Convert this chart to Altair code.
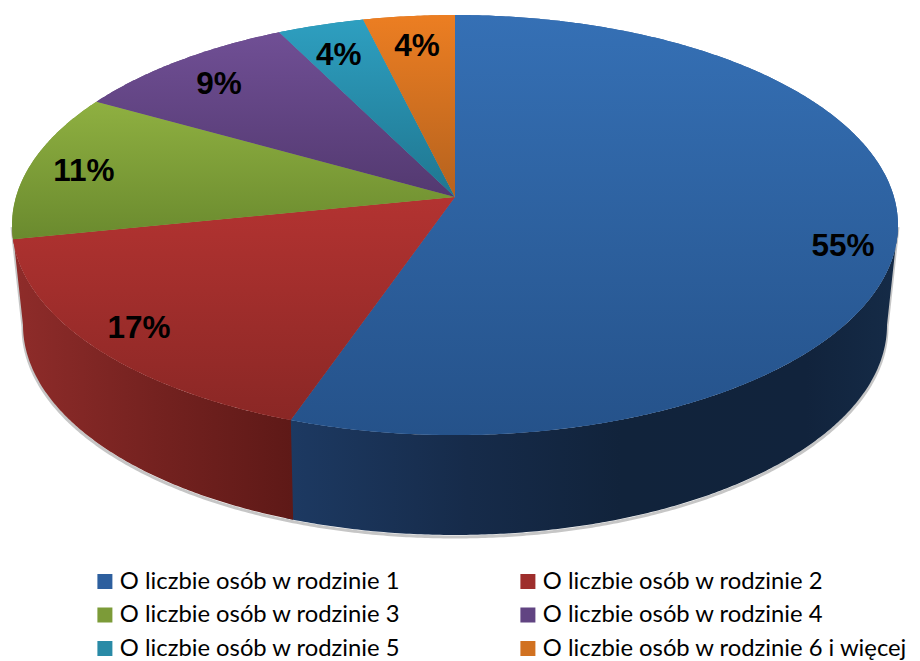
import math
import altair as alt
import pandas as pd

# ---- values ----
categories = [
    "O liczbie osób w rodzinie 1",
    "O liczbie osób w rodzinie 2",
    "O liczbie osób w rodzinie 3",
    "O liczbie osób w rodzinie 4",
    "O liczbie osób w rodzinie 5",
    "O liczbie osób w rodzinie 6 i więcej",
]
shares = [55.3, 16.5, 11.4, 9.4, 3.6, 3.8]
labels = ["55%", "17%", "11%", "9%", "4%", "4%"]
legend_colors = ["#2d5f9e", "#9e2e2c", "#7c9b38", "#614482", "#298aa6", "#d17120"]
top_colors = ["#3570b5", "#b33331", "#8fb041", "#704f95", "#2e9fc0", "#ec7e22"]
low_colors = ["#25528a", "#8a2725", "#6a8a2e", "#533970", "#1f7690", "#b5621e"]

# ---- perspective view of the disc ----
CX, APEX_Y, SX, PERSP, SY = 455.0, 197.0, 439.0, 0.1333, 180.0
LOW_CX, LOW_CY, LOW_RX, LOW_RY = 455.0, 325.0, 432.0, 210.0


def disc(angle_deg, r=1.0):
    a = math.radians(angle_deg)
    u, v = r * math.sin(a), r * math.cos(a)
    d = 1 + PERSP * v
    return CX + SX * u / d, (APEX_Y - SY * v) / d


def lower(angle_deg):
    a = math.radians(angle_deg)
    return LOW_CX + LOW_RX * math.sin(a), LOW_CY - LOW_RY * math.cos(a)


def arange(a, b, step=0.5):
    n = max(2, int(abs(b - a) / step) + 1)
    return [a + (b - a) * i / (n - 1) for i in range(n)]


cum = [0.0]
for s in shares:
    cum.append(cum[-1] + s)
total = cum[-1]
bounds = [c / total * 360 for c in cum]

rows = []
for i, name in enumerate(categories):
    pts = [disc(0, 0)] + [disc(t) for t in arange(bounds[i], bounds[i + 1])] + [disc(0, 0)]
    for k, (x, y) in enumerate(pts):
        rows.append({"name": name, "k": k, "x": x, "y": y})
wedges = pd.DataFrame(rows)

split = bounds[1]
split_low = 202.0
overlap = 1.0
wall_blue_pts = [disc(t) for t in arange(split + overlap, 97.7)] + [lower(t) for t in arange(90, split_low + overlap)]
wall_red_pts = [disc(t) for t in arange(split, 262.3)] + [lower(t) for t in arange(270, split_low)]
shadow_pts = [disc(97.7)] + [lower(t) for t in arange(90, 270)] + [disc(262.3)]


def frame(pts):
    return pd.DataFrame([{"k": k, "x": p[0], "y": p[1]} for k, p in enumerate(pts)])


label_angle = [105.4, 228.4, 278.2, 315.3, 338.8, 353.2]
label_radius = [0.888, 0.887, 0.868, 0.824, 0.806, 0.811]
label_df = pd.DataFrame(
    [
        {"t": t, "x": disc(a, r)[0], "y": disc(a, r)[1]}
        for t, a, r in zip(labels, label_angle, label_radius)
    ]
)

x_enc = alt.X("x:Q", axis=None, scale=alt.Scale(domain=[8, 912], nice=False, zero=False))
y_enc = alt.Y("y:Q", axis=None, scale=alt.Scale(domain=[8, 661], nice=False, zero=False, reverse=True))


def vgrad(c1, c2):
    return alt.Gradient(
        gradient="linear", x1=0, x2=0, y1=0, y2=1,
        stops=[alt.GradientStop(color=c1, offset=0), alt.GradientStop(color=c2, offset=1)],
    )


def hgrad(stops):
    return alt.Gradient(
        gradient="linear", x1=0, x2=1, y1=0, y2=0,
        stops=[alt.GradientStop(color=c, offset=o) for o, c in stops],
    )


shadow = (
    alt.Chart(frame(shadow_pts))
    .mark_line(color="#808080", strokeWidth=3, opacity=0.45, yOffset=2)
    .encode(x=x_enc, y=y_enc, order="k:Q")
)
wall_blue = (
    alt.Chart(frame(wall_blue_pts))
    .mark_line(
        strokeWidth=0,
        fill=hgrad([(0, "#1d3a63"), (0.3, "#162b4a"), (0.55, "#11233b"), (0.85, "#11233c"), (1, "#152b47")]),
    )
    .encode(x=x_enc, y=y_enc, order="k:Q")
)
wall_red = (
    alt.Chart(frame(wall_red_pts))
    .mark_line(
        strokeWidth=0,
        fill=hgrad([(0, "#8f2c2a"), (0.5, "#752220"), (1, "#5e1917")]),
    )
    .encode(x=x_enc, y=y_enc, order="k:Q")
)

base = (
    alt.Chart(wedges)
    .mark_line(strokeWidth=0)
    .encode(
        x=x_enc,
        y=y_enc,
        order="k:Q",
        detail="name:N",
        fill=alt.Fill(
            "name:N",
            scale=alt.Scale(domain=categories, range=legend_colors),
            legend=alt.Legend(
                title=None,
                orient="none",
                legendX=85,
                legendY=560,
                columns=2,
                direction="horizontal",
                symbolType="square",
                symbolSize=225,
                symbolStrokeWidth=0,
                symbolOpacity=1,
                labelFont="Lato",
                labelFontSize=23.8,
                labelColor="#000000",
                labelLimit=500,
                labelOffset=3,
                rowPadding=6.5,
                columnPadding=115,
                clipHeight=27,
            ),
        ),
    )
)

shades = [
    alt.Chart(wedges[wedges["name"] == name])
    .mark_line(strokeWidth=0, fill=vgrad(c1, c2))
    .encode(x=x_enc, y=y_enc, order="k:Q")
    for name, c1, c2 in zip(categories, top_colors, low_colors)
]

text = (
    alt.Chart(label_df)
    .mark_text(font="Liberation Sans", fontWeight="bold", fontSize=31.5, color="#000000", align="center", baseline="middle")
    .encode(x=x_enc, y=y_enc, text="t:N")
)

chart = (
    alt.layer(shadow, wall_blue, wall_red, base, *shades, text)
    .properties(
        width=904,
        height=653,
        padding=0,
        background="#ffffff",
        autosize=alt.AutoSizeParams(type="none"),
    )
    .configure_view(stroke=None)
)

chart.save("out.html", embed_options={"renderer": "svg", "actions": False})
